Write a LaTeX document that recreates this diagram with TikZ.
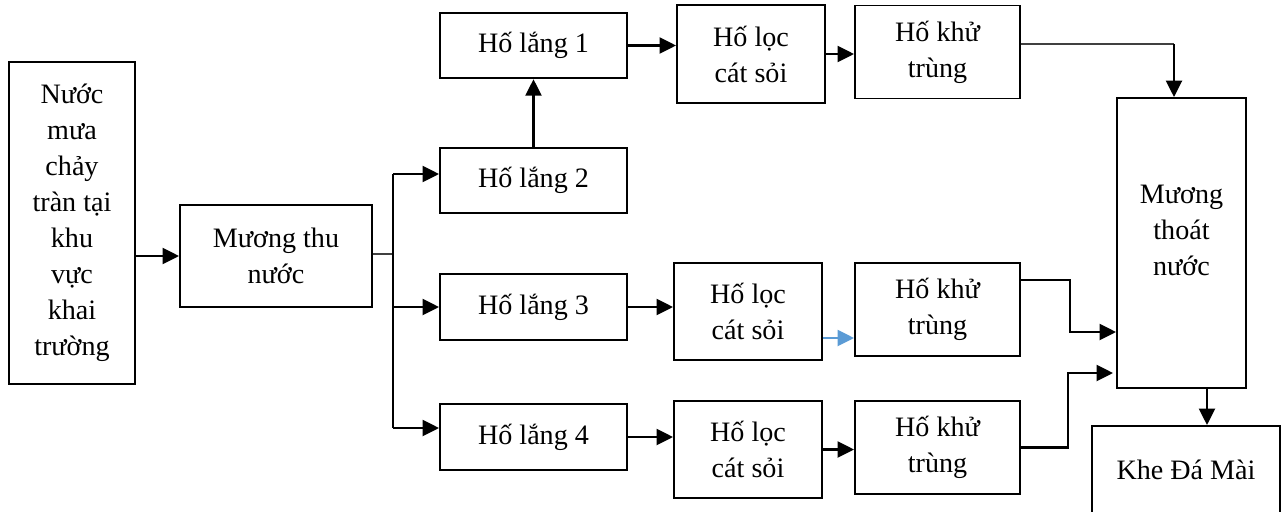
\documentclass[tikz,border=0pt]{standalone}
\usepackage{fontspec}
\setmainfont{Liberation Serif}
\usetikzlibrary{arrows.meta,calc}
\definecolor{flowblue}{HTML}{5B9BD5}

\begin{document}
\begin{tikzpicture}[x=0.02cm,y=-0.02cm,
  >={Triangle[length=0.33cm,width=0.32cm]},
  box/.style={draw,line width=1.1pt,align=center,inner sep=1pt,
    font=\fontsize{16}{20.5}\selectfont},
  pond/.style={box,minimum width=3.74cm,minimum height=1.31cm},
  filter/.style={box,minimum width=2.96cm,minimum height=1.95cm},
  disinf/.style={box,minimum width=3.3cm,minimum height=1.86cm},
  flow/.style={->,line width=1.4pt},
  thinline/.style={line width=0.6pt,black!75}]
\useasboundingbox (0,0) rectangle (1282,511);
%---------------- source and collecting ditch (left)
\node[box,minimum width=2.52cm,minimum height=6.44cm] (rain) at (72,223)
  {Nước\\mưa\\chảy\\tràn tại\\khu\\vực\\khai\\trường};
\node[box,minimum width=3.84cm,minimum height=2.04cm] (ditch) at (276,256)
  {Mương thu\\nước};
\draw[flow] (rain.east |- ditch) -- (ditch.west);

%---------------- splitting bus
\coordinate (busmid) at (393,254);
\coordinate (bus2) at (393,174);
\coordinate (bus3) at (393,307);
\coordinate (bus4) at (393,428);
\draw[thinline] (ditch.east |- busmid) -- (busmid);
\draw[line width=1pt] (bus2) -- (bus4);

%---------------- settling ponds
\foreach \i/\y in {1/45.5,2/180.5,3/307,4/437}
  \node[pond] (lang\i) at (533.5,\y) {Hố lắng \i};
\foreach \i in {2,3,4}
  \draw[flow] (bus\i) -- (bus\i -| lang\i.west);
\draw[flow] (lang2.north) -- (lang1.south);

%---------------- sand filters and disinfection ponds
\foreach \i/\x/\y in {1/751/54,3/748/311.5,4/748/449.5}
  \node[filter] (loc\i) at (\x,\y) {Hố lọc\\cát sỏi};
\foreach \i/\y in {1/52,3/309.5,4/447.5}
  \node[disinf] (khu\i) at (937.5,\y) {Hố khử\\trùng};
\foreach \i in {1,3,4}
  \draw[flow] (lang\i.east) -- (lang\i.east -| loc\i.west);
\draw[flow] (loc1.east) -- (loc1.east -| khu1.west);
\draw[flow] (loc4.east) -- (loc4.east -| khu4.west);
\coordinate (blue3) at ($(loc3.east)+(0,26.5)$);
\draw[flow,flowblue] (blue3) -- (blue3 -| khu3.west);

%---------------- drainage ditch and outlet (right)
\node[box,minimum width=2.58cm,minimum height=5.8cm] (drain) at (1181.5,243)
  {Mương\\thoát\\nước\\[-0.2cm]};
\node[box,minimum width=3.76cm,minimum height=1.76cm] (khe) at (1186,470)
  {Khe Đá Mài};

% branch 1: thin line, then down into the ditch
\coordinate (khu1out) at ($(khu1.east)+(0,-8)$);
\coordinate (drainin) at ($(drain.north)+(-7.5,0)$);
\draw[thinline] (khu1out) -- (khu1out -| drainin);
\draw[flow] (khu1out -| drainin) -- (drainin);
% branches 3 and 4
\coordinate (khu3out) at ($(khu3.east)+(0,-29.5)$);
\coordinate (drain3in) at ($(drain.west)+(0,89)$);
\draw[flow] (khu3out) -- ++(49,0) |- (drain3in);
\coordinate (drain4in) at ($(drain.west)+(-3,130)$);
\draw[flow] (khu4.east) -- ++(47,0) |- (drain4in);
% outlet
\coordinate (drainout) at ($(drain.south)+(25.5,0)$);
\draw[flow] (drainout) -- (drainout |- khe.north);
\end{tikzpicture}
\end{document}
